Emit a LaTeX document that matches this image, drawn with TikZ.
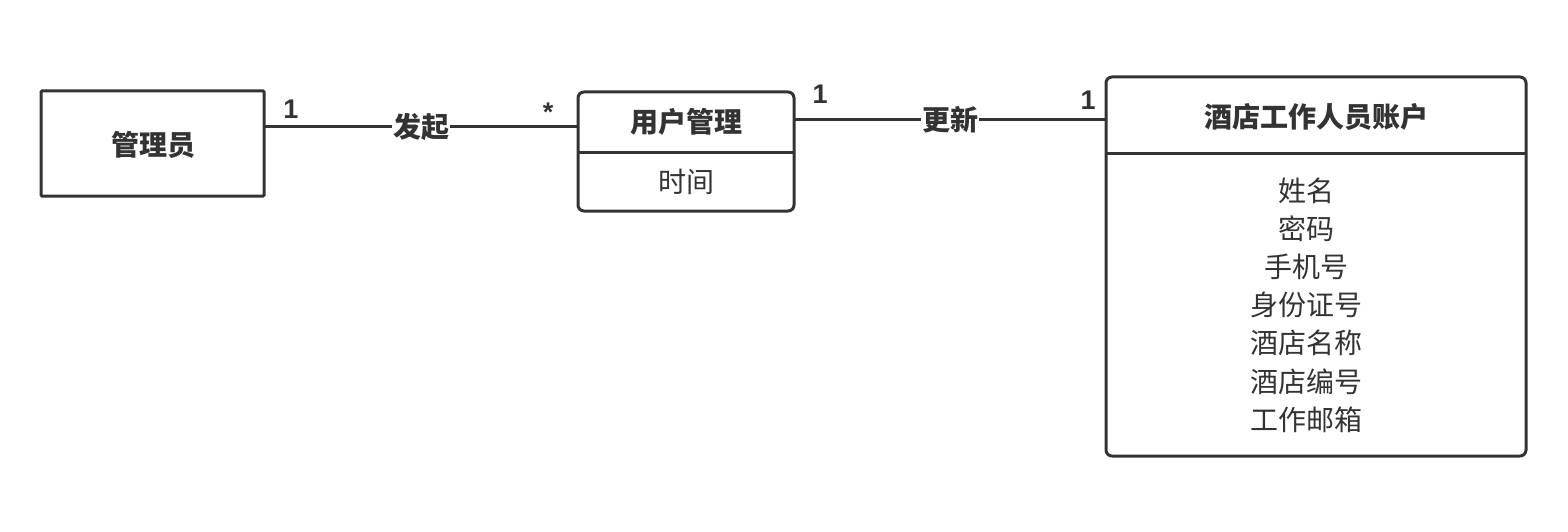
\documentclass[tikz,border=0pt]{standalone}
\usepackage{fontspec}
\setmainfont{Noto Sans CJK SC}
\newfontfamily\multfont{Liberation Sans}
\begin{document}
\begin{tikzpicture}[x=1pt,y=-1pt,
  ink/.style={draw=black!80,line width=3pt},
  umlbox/.style={ink,rounded corners=6pt},
  title/.style={font=\fontsize{28}{32}\selectfont\bfseries,text=black!80},
  attr/.style={font=\fontsize{28}{38.2}\selectfont,text=black!80,align=center},
  mult/.style={font=\multfont\fontsize{27}{32}\selectfont\bfseries,text=black!80},
  lbl/.style={font=\fontsize{28}{32}\selectfont\bfseries,text=black!80,fill=white,inner sep=1pt}]
\useasboundingbox (0,0) rectangle (1568,532);
\fill[white] (0,0) rectangle (1568,532);
% admin
\draw[ink,rounded corners=1pt] (41,91) rectangle (264,196);
\node[title] (admin) at (153,145) {管理员};
\coordinate (adminR) at (264,127);
% user mgmt
\draw[umlbox] (578,92) rectangle (794,211);
\draw[ink] (578,152) -- (794,152);
\node[title] (um) at (686,122) {用户管理};
\node[attr] (umattr) at (686,182) {时间};
\coordinate (umL) at (578,127);
\coordinate (umR) at (794,120);
% hotel staff
\draw[umlbox] (1106,77) rectangle (1526,456);
\draw[ink] (1106,153) -- (1526,153);
\node[title] (hs) at (1316,117) {酒店工作人员账户};
\node[attr,anchor=north] (hsattr) at (1306,174) {姓名\\密码\\手机号\\身份证号\\酒店名称\\酒店编号\\工作邮箱};
\coordinate (hsL) at (1106,120);
% connectors
\draw[ink] (adminR) -- node[lbl] (l1) {发起} (umL);
\draw[ink] (umR) -- node[lbl] (l2) {更新} (hsL);
\node[mult] (m1) at (291,109) {1};
\node[mult] (m2) at (548,112) {*};
\node[mult] (m3) at (820,94) {1};
\node[mult] (m4) at (1088,100) {1};
\end{tikzpicture}
\end{document}
